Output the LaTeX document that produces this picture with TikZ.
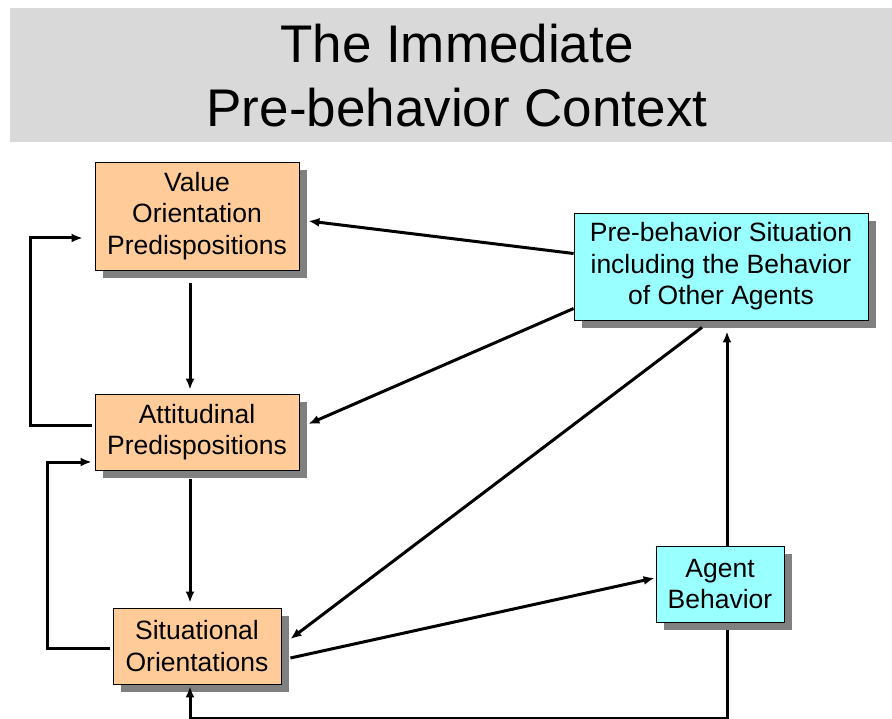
\documentclass[tikz,border=0pt]{standalone}
\usepackage{fontspec}
\setmainfont{Liberation Sans}
\usetikzlibrary{arrows.meta,shadows,calc}
\definecolor{boxorange}{HTML}{FFCC99}
\definecolor{boxcyan}{HTML}{99FFFF}
\definecolor{shadowgray}{HTML}{808080}
\definecolor{bannergray}{HTML}{D9D9D9}
\begin{document}
\begin{tikzpicture}[x=1pt,y=-1pt,
  box/.style={draw=black, line width=0.8pt, rectangle, inner sep=0pt, align=center,
    font=\fontsize{26.5}{31.5}\selectfont,
    general shadow={shadow xshift=8pt, shadow yshift=-8pt, fill=shadowgray}},
  obox/.style={box, fill=boxorange},
  cbox/.style={box, fill=boxcyan},
  conn/.style={line width=3pt, -{Latex[length=11pt,width=9pt]}}]
\useasboundingbox (0,0) rectangle (892,719);
\fill[white] (0,0) rectangle (892,719);
% title banner
\node[fill=bannergray, minimum width=882pt, minimum height=134pt, inner sep=0pt] (banner) at (451,75) {};
\node[align=center, font=\fontsize{53}{64}\selectfont] (title) at (457,76) {The Immediate\\Pre-behavior Context};
% boxes
\node[obox, minimum width=204pt, minimum height=108pt] (val) at (197,216) {Value\\Orientation\\Predispositions};
\node[obox, minimum width=204pt, minimum height=76pt] (att) at (197,432) {Attitudinal\\Predispositions};
\node[obox, minimum width=168pt, minimum height=76pt] (sit) at (197,646) {Situational\\Orientations};
\node[cbox, minimum width=294pt, minimum height=107pt] (pre) at (721,266.5) {Pre-behavior Situation\\including the Behavior\\of Other Agents};
\node[cbox, minimum width=128pt, minimum height=76pt] (agt) at (720,584) {Agent\\Behavior};
% connectors
\draw[conn] ($(pre.west)+(0,-13)$) -- ($(val.east)+(9,5)$);
\draw[conn] ($(pre.west)+(0,42)$) -- ($(att.east)+(9,-8)$);
\draw[conn] ($(pre.south)+(-19,7)$) -- ($(sit.east)+(9,-7)$);
\draw[conn] ($(sit.east)+(9,12)$) -- ($(agt.west)+(-1,-6)$);
\draw[conn] ($(agt.north)+(7,0)$) -- ($(pre.south)+(6,11)$);
\draw[conn] ($(agt.south)+(7,8)$) -- ++(0,88) -| ($(sit.south)+(-7,2)$);
\draw[conn] ($(val.south)+(-7,13)$) -- ($(att.north)+(-7,-4)$);
\draw[conn] ($(att.south)+(-7,9)$) -- ($(sit.north)+(-7,-5)$);
\draw[conn] ($(att.west)+(-3,-7)$) -- (30,425) -- (30,238) -- ($(val.west)+(-12,22)$);
\draw[conn] ($(sit.west)+(-3,2)$) -- (47,648) -- (47,462) -- ($(att.west)+(-3,30)$);
\end{tikzpicture}
\end{document}
